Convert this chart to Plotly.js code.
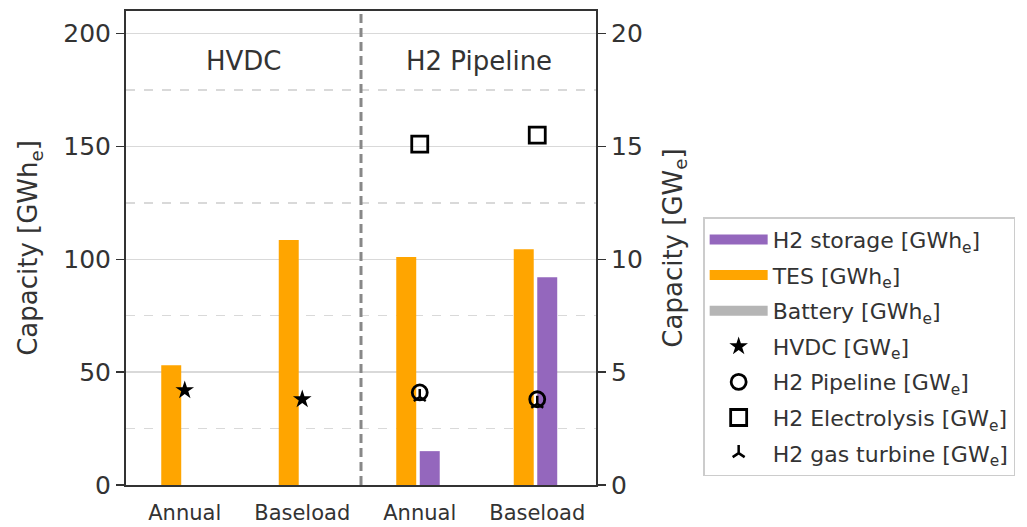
<!DOCTYPE html>
<html>
<head>
<meta charset="utf-8">
<script src="https://cdn.plot.ly/plotly-3.0.1.min.js"></script>
<style>html,body{margin:0;padding:0;background:#fff;}#chart{width:1027px;height:527px;}</style>
</head>
<body>
<div id="chart"></div>
<script>
// ---- data ----
const xPos = [0, 1, 2, 3];
const tickLabels = ['Annual', 'Baseload', 'Annual', 'Baseload'];
const groupLabels = ['HVDC', 'H2 Pipeline'];
const groupX = [0.5, 2.5];
const tesGWh = [53, 108.5, 101, 104.5];
const h2StorageGWh = [0, 0, 15, 92];
const batteryGWh = [0, 0, 0, 0];
const hvdcGW = [4.2, 3.8, null, null];
const h2PipelineGW = [null, null, 4.1, 3.8];
const h2ElectrolysisGW = [null, null, 15.1, 15.5];
const h2GasTurbineGW = [null, null, 3.9, 3.6];

const FONT = 'DejaVu Sans, sans-serif';
const TXT = '#333333';
const ORANGE = '#FFA500';
const PURPLE = '#9467bd';
const GRAY = '#b5b5b5';

const traces = [];
// bars (legend shown through line proxies)
traces.push({type:'bar', x:xPos, y:tesGWh, offset:-0.2, width:0.17, marker:{color:ORANGE}, showlegend:false, yaxis:'y', hoverinfo:'skip'});
traces.push({type:'bar', x:xPos, y:h2StorageGWh, offset:0.0, width:0.17, marker:{color:PURPLE}, showlegend:false, yaxis:'y', hoverinfo:'skip'});
traces.push({type:'bar', x:xPos, y:batteryGWh, offset:0.0, width:0.17, marker:{color:GRAY}, showlegend:false, yaxis:'y', hoverinfo:'skip'});

// legend proxies for bars
const proxy = (name, color, g) => ({type:'scatter', mode:'lines', x:[null], y:[null], name:name, legendgroup:g, line:{color:color, width:13}, yaxis:'y'});
traces.push(proxy('H2 storage [GWh<sub>e</sub>]', PURPLE, 'a'));
traces.push(proxy('TES [GWh<sub>e</sub>]', ORANGE, 'b'));
traces.push(proxy('Battery [GWh<sub>e</sub>]', GRAY, 'c'));

// markers on right axis
traces.push({type:'scatter', mode:'markers', x:xPos, y:hvdcGW, name:'HVDC [GW<sub>e</sub>]', legendgroup:'d', yaxis:'y2',
  marker:{symbol:'star', size:14, color:'#000'}});
traces.push({type:'scatter', mode:'markers', x:xPos, y:h2GasTurbineGW, name:'H2 gas turbine [GW<sub>e</sub>]', legendgroup:'g', yaxis:'y2',
  marker:{symbol:'y-up', size:10, color:'#000', line:{color:'#000', width:2.5}}});
traces.push({type:'scatter', mode:'markers', x:xPos, y:h2PipelineGW, name:'H2 Pipeline [GW<sub>e</sub>]', legendgroup:'e', yaxis:'y2',
  marker:{symbol:'circle-open', size:15, color:'#000', line:{color:'#000', width:2.8}}});
traces.push({type:'scatter', mode:'markers', x:xPos, y:h2ElectrolysisGW, name:'H2 Electrolysis [GW<sub>e</sub>]', legendgroup:'f', yaxis:'y2',
  marker:{symbol:'square-open', size:16, color:'#000', line:{color:'#000', width:2.8}}});

const annotations = groupLabels.map((t, i) => ({x:groupX[i], y:188, xref:'x', yref:'y', text:t, showarrow:false,
  font:{family:FONT, size:26, color:TXT}, xanchor:'center', yanchor:'middle'}));

const layout = {
  width:1027, height:527,
  margin:{l:126, r:431, t:11, b:42},
  paper_bgcolor:'#fff', plot_bgcolor:'#fff',
  font:{family:FONT, color:TXT},
  barmode:'overlay',
  showlegend:true,
  xaxis:{range:[-0.5, 3.5], tickvals:xPos, ticktext:tickLabels, showgrid:false, zeroline:false,
    ticks:'', ticklabelstandoff:8, tickfont:{family:FONT, size:21, color:TXT}, showline:true, mirror:true, linecolor:'#333', linewidth:2},
  yaxis:{range:[0, 210], dtick:50, tick0:0, showgrid:true, gridcolor:'#d9d9d9', gridwidth:1.5, zeroline:false,
    ticks:'outside', ticklen:8, tickwidth:1.5, tickcolor:'#333', tickfont:{family:FONT, size:25, color:TXT},
    showline:true, mirror:true, linecolor:'#333', linewidth:2,
    minor:{dtick:25, tick0:0, showgrid:true, gridcolor:'#d9d9d9', griddash:'dash', gridwidth:1.5, ticks:''},
    title:{text:'Capacity [GWh<sub>e</sub>]', font:{family:FONT, size:26, color:TXT}, standoff:18}},
  yaxis2:{range:[0, 21], dtick:5, tick0:0, overlaying:'y', side:'right', showgrid:false, zeroline:false,
    ticks:'outside', ticklen:8, tickwidth:1.5, tickcolor:'#333', tickfont:{family:FONT, size:25, color:TXT},
    showline:true, linecolor:'#333', linewidth:2,
    title:{text:'Capacity [GW<sub>e</sub>]', font:{family:FONT, size:26, color:TXT}, standoff:22}},
  shapes:[{type:'line', xref:'x', yref:'paper', x0:1.5, x1:1.5, y0:0, y1:1, line:{color:'#888888', width:3, dash:'9px,5px'}, layer:'above'}],
  annotations:annotations,
  legend:{x:1.228, y:0.565, xanchor:'left', yanchor:'top', bgcolor:'#fff', bordercolor:'#cccccc', borderwidth:1.5,
    font:{family:FONT, size:22, color:TXT}, traceorder:'grouped', tracegroupgap:4, itemwidth:58}
};

const order = {a:1,b:2,c:3,d:4,e:5,f:6,g:7};
traces.forEach(t => { if (t.legendgroup) t.legendrank = order[t.legendgroup]; });

Plotly.newPlot('chart', traces, layout, {staticPlot:true});
</script>
</body>
</html>
